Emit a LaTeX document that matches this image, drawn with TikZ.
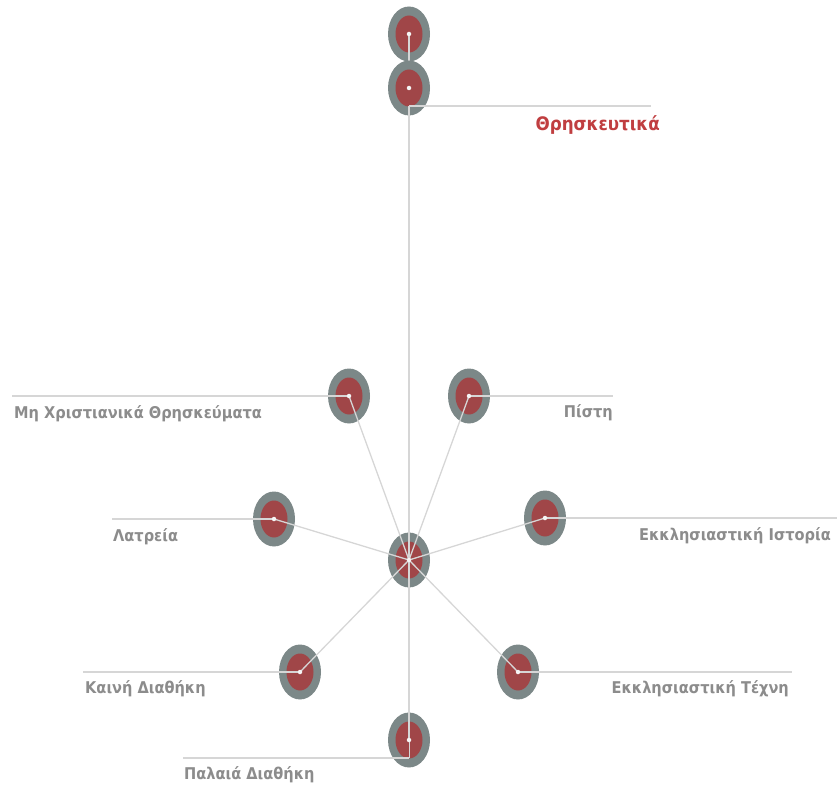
\documentclass[tikz,border=0pt]{standalone}
\usepackage{fontspec}
\setmainfont{DejaVu Sans Condensed}
\usetikzlibrary{shapes.geometric}
\definecolor{ringgray}{RGB}{124,136,136}
\definecolor{corered}{RGB}{160,70,72}
\definecolor{linegray}{RGB}{214,214,214}
\definecolor{textgray}{RGB}{140,140,140}
\definecolor{titlered}{RGB}{192,62,64}
\begin{document}
\begin{tikzpicture}[x=1pt,y=-1pt,
  ring/.style={ellipse,fill=ringgray,minimum width=42pt,minimum height=55pt,inner sep=0pt},
  core/.style={ellipse,fill=corered,minimum width=27pt,minimum height=37pt,inner sep=0pt},
  cdot/.style={circle,fill=white!92!gray,minimum size=4.5pt,inner sep=0pt},
  conn/.style={draw=linegray,line width=1.3pt},
  lline/.style={draw=linegray,line width=2pt},
  lbl/.style={text=textgray,font=\bfseries\fontsize{16.2}{18}\selectfont,inner sep=0pt},
  ttl/.style={text=titlered,font=\bfseries\fontsize{18.6}{20}\selectfont,inner sep=0pt}]
\useasboundingbox (0,0) rectangle (837,786);
% top chain
\node[ring] (t1) at (409,34) {};
\node[core] at (t1) {};
\draw[conn] (t1.center) -- (409,88);
\node[ring] (t2) at (409,88) {};
\node[core] at (t2) {};
% other nodes
\node[ring] (c) at (409,560) {};
\node[core] at (c) {};
\node[ring] (mx) at (349,396) {};  \node[core] at (mx) {};
\node[ring] (pi) at (469,396) {};  \node[core] at (pi) {};
\node[ring] (la) at (274,519) {};  \node[core] at (la) {};
\node[ring] (ei) at (545,518) {};  \node[core] at (ei) {};
\node[ring] (kd) at (300,672) {};  \node[core] at (kd) {};
\node[ring] (et) at (518,672) {};  \node[core] at (et) {};
\node[ring] (pd) at (409,740) {};  \node[core] at (pd) {};
% label anchor coordinates
\coordinate (t2b) at (409,106);
\coordinate (t2e) at (651,106);
\coordinate (mxe) at (12,396);
\coordinate (pie) at (613,396);
\coordinate (lae) at (112,519);
\coordinate (eie) at (837,518);
\coordinate (kde) at (83,672);
\coordinate (ete) at (792,672);
\coordinate (pdb) at (409,758);
\coordinate (pde) at (183,758);
% connectors
\draw[conn] (t2b) -- (c.center);
\draw[conn] (c.center) -- (mx.center);
\draw[conn] (c.center) -- (pi.center);
\draw[conn] (c.center) -- (la.center);
\draw[conn] (c.center) -- (ei.center);
\draw[conn] (c.center) -- (kd.center);
\draw[conn] (c.center) -- (et.center);
\draw[conn] (c.center) -- (pd.center);
\draw[conn,line width=0.8pt] (pd.center) -- (pdb);
% label lines
\draw[lline] (t2b) -- (t2e);
\draw[lline] (mx.center) -- (mxe);
\draw[lline] (pi.center) -- (pie);
\draw[lline] (la.center) -- (lae);
\draw[lline] (ei.center) -- (eie);
\draw[lline] (kd.center) -- (kde);
\draw[lline] (et.center) -- (ete);
\draw[lline] (pdb) -- (pde);
% dots
\foreach \n in {t1,t2,c,mx,pi,la,ei,kd,et,pd} \node[cdot] at (\n) {};
% labels
\node[ttl,anchor=base east] (tt) at ([xshift=9pt,yshift=-25pt]t2e) {Θρησκευτικά};
\node[lbl,anchor=base west] (tmx) at ([xshift=2pt,yshift=-22pt]mxe) {Μη Χριστιανικά Θρησκεύματα};
\node[lbl,anchor=base east] (tpi) at ([yshift=-21pt]pie) {Πίστη};
\node[lbl,anchor=base west] (tla) at ([xshift=1pt,yshift=-22pt]lae) {Λατρεία};
\node[lbl,anchor=base east] (tei) at ([xshift=-6pt,yshift=-22pt]eie) {Εκκλησιαστική Ιστορία};
\node[lbl,anchor=base west] (tkd) at ([xshift=2pt,yshift=-21pt]kde) {Καινή Διαθήκη};
\node[lbl,anchor=base east] (tet) at ([xshift=-3pt,yshift=-21pt]ete) {Εκκλησιαστική Τέχνη};
\node[lbl,anchor=base west] (tpd) at ([xshift=1pt,yshift=-21pt]pde) {Παλαιά Διαθήκη};
\end{tikzpicture}
\end{document}
